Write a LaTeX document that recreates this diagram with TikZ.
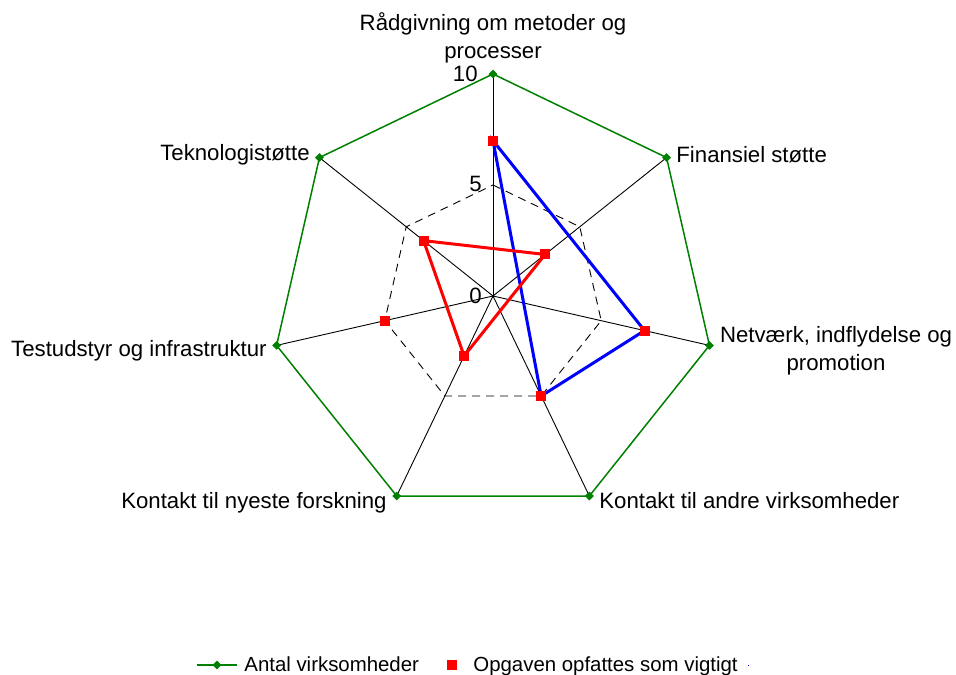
\documentclass[tikz,border=0pt]{standalone}
\usepackage{fontspec}
\setmainfont{Liberation Sans}
\usetikzlibrary{shapes.geometric}
\definecolor{xlgreen}{RGB}{0,128,0}
\definecolor{xlred}{RGB}{255,0,0}
\definecolor{xlblue}{RGB}{0,0,255}
\begin{document}
\begin{tikzpicture}[x=0.5pt,y=0.5pt,
  lab/.style={font=\fontsize{11.1}{14}\selectfont, inner sep=0pt, text height=8pt, text depth=2pt},
  leglab/.style={font=\fontsize{10.2}{12}\selectfont, inner sep=0pt, text height=7.4pt, text depth=1.8pt},
  mlab/.style={font=\fontsize{11.1}{14}\selectfont, inner sep=0pt, align=center},
  spoke/.style={black, line width=0.45pt},
  midring/.style={black, line width=0.45pt, dash pattern=on 4pt off 3pt},
  outer/.style={xlgreen, line width=0.75pt, line join=miter},
  gmark/.style={diamond, fill=xlgreen, inner sep=0pt, minimum size=4.6pt},
  rmark/.style={rectangle, fill=xlred, inner sep=0pt, minimum size=5pt},
  blueline/.style={xlblue, line width=1.5pt, line join=miter},
  redline/.style={xlred, line width=1.5pt, line join=miter}]
\useasboundingbox (0,0) rectangle (956,674);
\fill[white] (0,0) rectangle (956,674);

% centre and axis end points (value 10 and value 5)
\coordinate (c) at (493,378);
\foreach \k in {0,...,6} {
  \path (c) ++ ({90-\k*360/7}:222) coordinate (v\k);
  \path (c) ++ ({90-\k*360/7}:111) coordinate (h\k);
}
% second series values
\foreach \k/\v in {0/7,1/3,2/7,3/5,4/3,5/5,6/4} {
  \path (c) ++ ({90-\k*360/7}:{22.2*\v}) coordinate (r\k);
}

% spokes and dashed ring at 5
\foreach \k in {0,...,6} \draw[spoke] (c) -- (v\k);
\draw[midring] (h0) -- (h1) -- (h2) -- (h3) -- (h4) -- (h5) -- (h6) -- cycle;

% outer ring (Antal virksomheder)
\draw[outer] (v0) -- (v1) -- (v2) -- (v3) -- (v4) -- (v5) -- (v6) -- cycle;
\foreach \k in {0,...,6} \node[gmark] (gm\k) at (v\k) {};

% connecting lines
\draw[blueline] (r0) -- (r2) -- (r3) -- cycle;
\draw[redline] (r6) -- (r1) -- (r4) -- cycle;
\foreach \k in {0,...,6} \node[rmark] (rm\k) at (r\k) {};

% scale labels
\node[lab, anchor=east] (s10) at (478,598) {10};
\node[lab, anchor=east] (s5) at (482,488) {5};
\node[lab, anchor=east] (s0) at (482,376) {0};

% axis labels
\node[mlab] (a0) at (493,636) {Rådgivning om metoder og\\processer};
\node[lab, anchor=west] (a1) at (676,517) {Finansiel støtte};
\node[mlab] (a2) at (836,323) {Netværk, indflydelse og\\promotion};
\node[lab, anchor=west] (a3) at (599,172) {Kontakt til andre virksomheder};
\node[lab, anchor=east] (a4) at (387,172) {Kontakt til nyeste forskning};
\node[lab, anchor=east] (a5) at (267,323) {Testudstyr og infrastruktur};
\node[lab, anchor=east] (a6) at (310,519) {Teknologistøtte};

% legend
\coordinate (lg0) at (197,9);
\coordinate (lg1) at (237,9);
\draw[outer] (lg0) -- (lg1);
\node[gmark] (lgm) at (217,9) {};
\node[leglab, anchor=west] (lt1) at (244,8) {Antal virksomheder};
\node[rmark] (lrm) at (452,9) {};
\node[leglab, anchor=west] (lt2) at (473,8) {Opgaven opfattes som vigtigt};
\fill[xlblue] (747.5,8.5) rectangle (748.5,9.5);
\end{tikzpicture}
\end{document}
